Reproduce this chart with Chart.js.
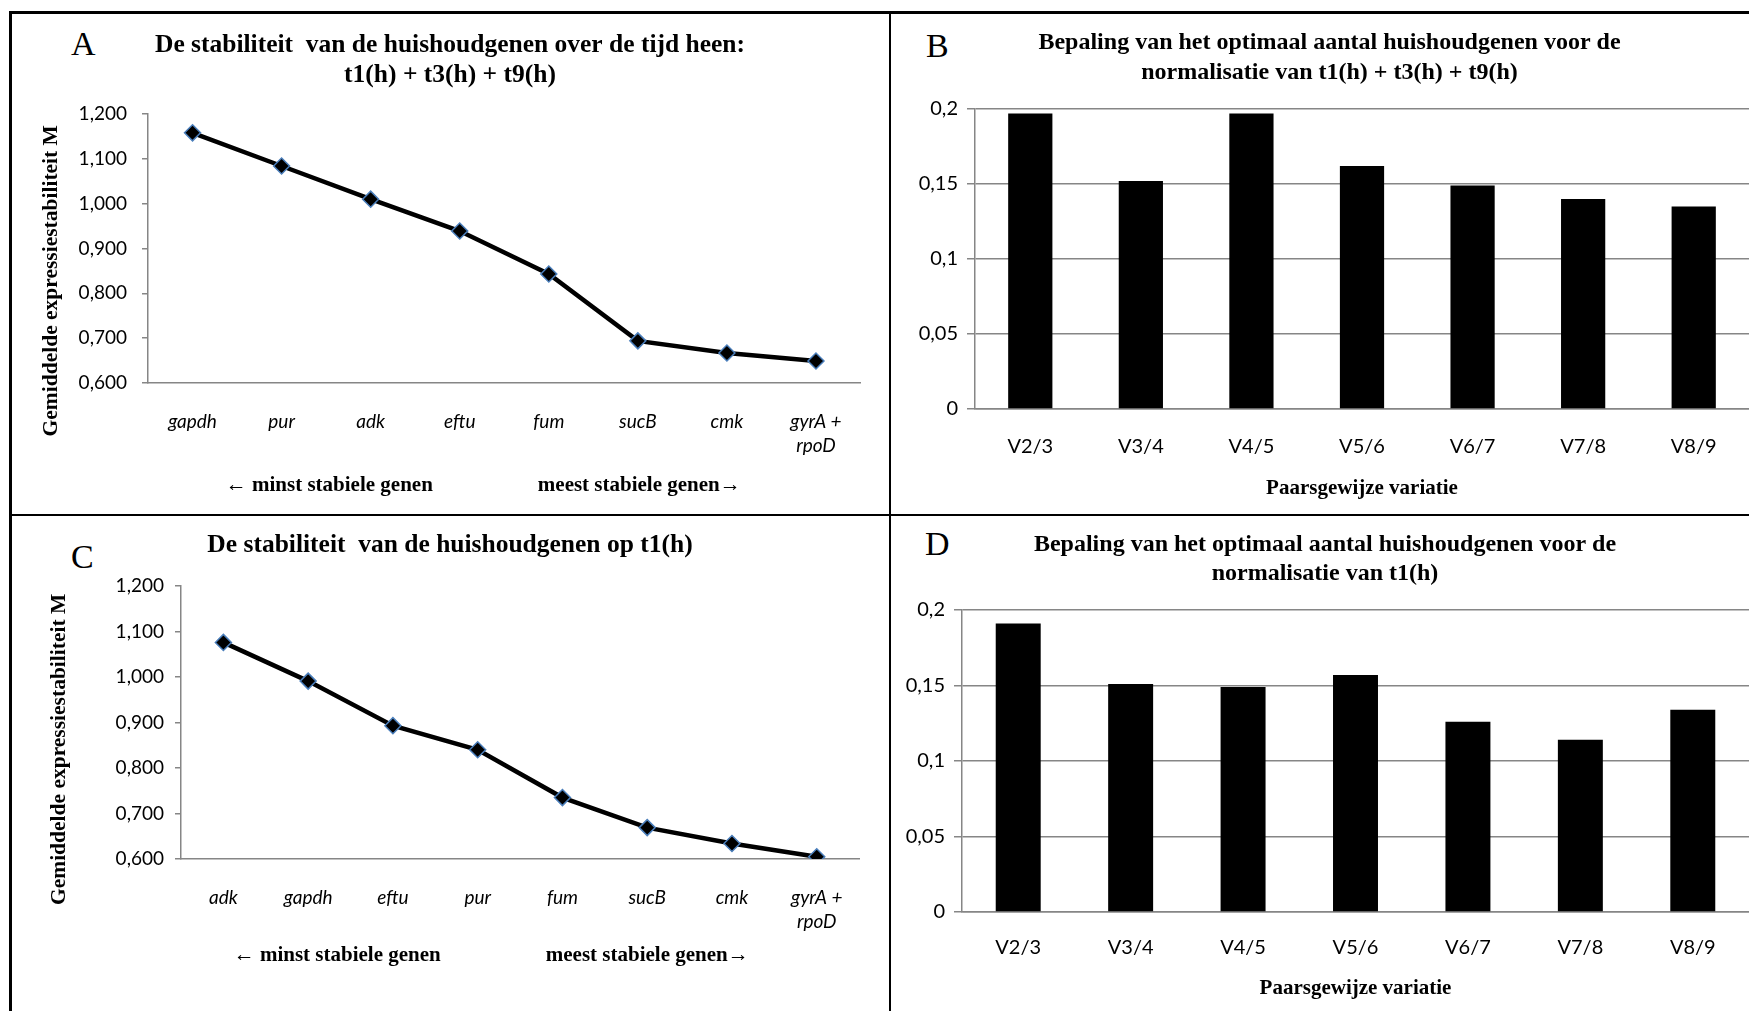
<!DOCTYPE html>
<html lang="nl">
<head>
<meta charset="utf-8">
<title>Stabiliteit van de huishoudgenen</title>
<script src="https://cdn.jsdelivr.net/npm/chart.js@4.4.1/dist/chart.umd.min.js"></script>
<style>
  html, body { margin: 0; padding: 0; background: #fff; }
  body { width: 1749px; height: 1011px; position: relative; overflow: hidden; }
  canvas { position: absolute; }
  .rule { position: absolute; background: #000; }
  .letter { position: absolute; font-family: 'Liberation Serif', 'Times New Roman', serif; font-size: 34px; line-height: 34px; color: #000; }
</style>
</head>
<body>
  <!-- kader rond de vier panelen -->
  <div class="rule" style="left:9px; top:11px; width:1740px; height:2.5px"></div>
  <div class="rule" style="left:9px; top:11px; width:2.5px; height:1000px"></div>
  <div class="rule" style="left:889px; top:12px; width:2px; height:999px"></div>
  <div class="rule" style="left:10px; top:514px; width:1739px; height:2px"></div>

  <div class="letter" style="left:71px; top:27px">A</div>
  <div class="letter" style="left:926px; top:29px">B</div>
  <div class="letter" style="left:71px; top:540px">C</div>
  <div class="letter" style="left:925px; top:527px">D</div>

  <canvas id="chartA" width="858" height="500" style="left:12px; top:14px"></canvas>
  <canvas id="chartB" width="857" height="499" style="left:892px; top:14px"></canvas>
  <canvas id="chartC" width="858" height="493" style="left:12px; top:518px"></canvas>
  <canvas id="chartD" width="857" height="493" style="left:892px; top:518px"></canvas>

<script>
// genen, van minst naar meest stabiel
const genesA = ['gapdh', 'pur', 'adk', 'eftu', 'fum', 'sucB', 'cmk', ['gyrA +', 'rpoD']];
const stabilityA = [1.158, 1.084, 1.010, 0.939, 0.843, 0.694, 0.667, 0.649];

const genesC = ['adk', 'gapdh', 'eftu', 'pur', 'fum', 'sucB', 'cmk', ['gyrA +', 'rpoD']];
const stabilityC = [1.076, 0.991, 0.893, 0.840, 0.735, 0.669, 0.634, 0.605];

// paarsgewijze variatie
const pairs = ['V2/3', 'V3/4', 'V4/5', 'V5/6', 'V6/7', 'V7/8', 'V8/9'];
const variationB = [0.197, 0.152, 0.197, 0.162, 0.149, 0.140, 0.135];
const variationD = [0.191, 0.151, 0.149, 0.157, 0.126, 0.114, 0.134];

const stabilityTicks = [0.6, 0.7, 0.8, 0.9, 1.0, 1.1, 1.2];
const variationTicks = [0, 0.05, 0.1, 0.15, 0.2];

const serif = "'Liberation Serif', 'Times New Roman', serif";
const axisGrey = '#868686';

Chart.defaults.font.family = "Lato, 'Open Sans', sans-serif";
Chart.defaults.color = '#000';

const yTitle = 'Gemiddelde expressiestabiliteit M';
const arrows = (gap, tail) => '\u2190 minst stabiele genen' + ' '.repeat(gap) + 'meest stabiele genen\u2192' + ' '.repeat(tail);

function stabilityChart(id, genes, values, lay) {
    return new Chart(document.getElementById(id), {
        type: 'line',
        data: {
            labels: genes,
            datasets: [{
                data: values,
                borderColor: '#000',
                borderWidth: 4.5,
                tension: 0,
                pointStyle: 'rectRot',
                pointRadius: 8,
                pointBackgroundColor: '#000',
                pointBorderColor: '#4a7ebb',
                pointBorderWidth: 1.5
            }]
        },
        options: {
            responsive: false,
            animation: false,
            layout: { padding: { left: lay.padLeft, right: 0, top: 0, bottom: 0 } },
            plugins: {
                legend: { display: false },
                tooltip: { enabled: false },
                title: {
                    display: true,
                    text: lay.title,
                    color: '#000',
                    font: { family: serif, size: 25.5, weight: 'bold', lineHeight: '30px' },
                    padding: { top: lay.titleTop, bottom: lay.titleBottom }
                }
            },
            scales: {
                x: {
                    offset: true,
                    grid: { display: false, drawTicks: false },
                    border: { color: axisGrey, width: 1.5 },
                    ticks: { font: { size: 19, style: 'italic', lineHeight: 1.26 }, padding: 27, maxRotation: 0, autoSkip: false },
                    title: {
                        display: true,
                        text: lay.xTitle,
                        font: { family: serif, size: 21, weight: 'bold' },
                        padding: { top: 0, bottom: lay.xTitlePad }
                    },
                    afterFit: s => { s.height = lay.xHeight; }
                },
                y: {
                    min: 0.6,
                    max: 1.2,
                    afterBuildTicks: s => { s.ticks = stabilityTicks.map(v => ({ value: v })); },
                    grid: { drawOnChartArea: false, tickLength: 6, color: axisGrey, lineWidth: 1.5 },
                    border: { color: axisGrey, width: 1.5 },
                    ticks: { font: { size: 19 }, padding: lay.yTickPad, callback: v => v.toFixed(3).replace('.', ',') },
                    title: {
                        display: true,
                        text: lay.yTitle,
                        font: { family: serif, size: 21.5, weight: 'bold' },
                        padding: { top: lay.yTitlePad, bottom: 0 }
                    },
                    afterFit: s => { s.width = lay.yWidth; }
                }
            }
        }
    });
}

function variationChart(id, values, lay) {
    return new Chart(document.getElementById(id), {
        type: 'bar',
        data: {
            labels: pairs,
            datasets: [{
                data: values,
                backgroundColor: '#000',
                borderWidth: 0,
                barPercentage: 0.4,
                categoryPercentage: 1
            }]
        },
        options: {
            responsive: false,
            animation: false,
            layout: { padding: { left: lay.padLeft, right: 0, top: 0, bottom: 0 } },
            plugins: {
                legend: { display: false },
                tooltip: { enabled: false },
                title: {
                    display: true,
                    text: lay.title,
                    color: '#000',
                    font: { family: serif, size: 24, weight: 'bold', lineHeight: lay.titleLine },
                    padding: { top: lay.titleTop, bottom: lay.titleBottom }
                }
            },
            scales: {
                x: {
                    grid: { display: false, drawTicks: false },
                    border: { color: axisGrey, width: 1.5 },
                    ticks: { font: { size: 20 }, padding: lay.xTickPad, maxRotation: 0 },
                    title: {
                        display: true,
                        text: 'Paarsgewijze variatie',
                        font: { family: serif, size: 21, weight: 'bold' },
                        padding: { top: 0, bottom: lay.xTitlePad }
                    },
                    afterFit: s => { s.height = lay.xHeight; }
                },
                y: {
                    min: 0,
                    max: 0.2,
                    afterBuildTicks: s => { s.ticks = variationTicks.map(v => ({ value: v })); },
                    grid: { color: axisGrey, lineWidth: 1.5, tickLength: 8 },
                    border: { color: axisGrey, width: 1.5 },
                    ticks: { font: { size: 20 }, padding: 9, callback: v => String(v).replace('.', ',') },
                    afterFit: s => { s.width = lay.yWidth; }
                }
            }
        }
    });
}

stabilityChart('chartA', genesA, stabilityA, {
    title: ['De stabiliteit  van de huishoudgenen over de tijd heen:', 't1(h) + t3(h) + t9(h)'],
    titleTop: 16, titleBottom: 24,
    padLeft: 18, yWidth: 118, yTickPad: 15, yTitlePad: 9,
    yTitle: yTitle + ' '.repeat(12),
    xTitle: arrows(20, 8), xTitlePad: 16, xHeight: 131
});

stabilityChart('chartC', genesC, stabilityC, {
    title: 'De stabiliteit  van de huishoudgenen op t1(h)',
    titleTop: 12, titleBottom: 26,
    padLeft: 18, yWidth: 151, yTickPad: 11, yTitlePad: 17,
    yTitle: yTitle + ' '.repeat(10),
    xTitle: arrows(20, 11), xTitlePad: 43, xHeight: 152
});

variationChart('chartB', variationB, {
    title: ['Bepaling van het optimaal aantal huishoudgenen voor de', 'normalisatie van t1(h) + t3(h) + t9(h)'],
    titleLine: '30px', titleTop: 14, titleBottom: 21,
    padLeft: 18, yWidth: 65, xTickPad: 26, xTitlePad: 12, xHeight: 104
});

variationChart('chartD', variationD, {
    title: ['Bepaling van het optimaal aantal huishoudgenen voor de', 'normalisatie van t1(h)'],
    titleLine: '29px', titleTop: 12.5, titleBottom: 21.5,
    padLeft: 9, yWidth: 61, xTickPad: 24, xTitlePad: 10, xHeight: 99
});
</script>
</body>
</html>
